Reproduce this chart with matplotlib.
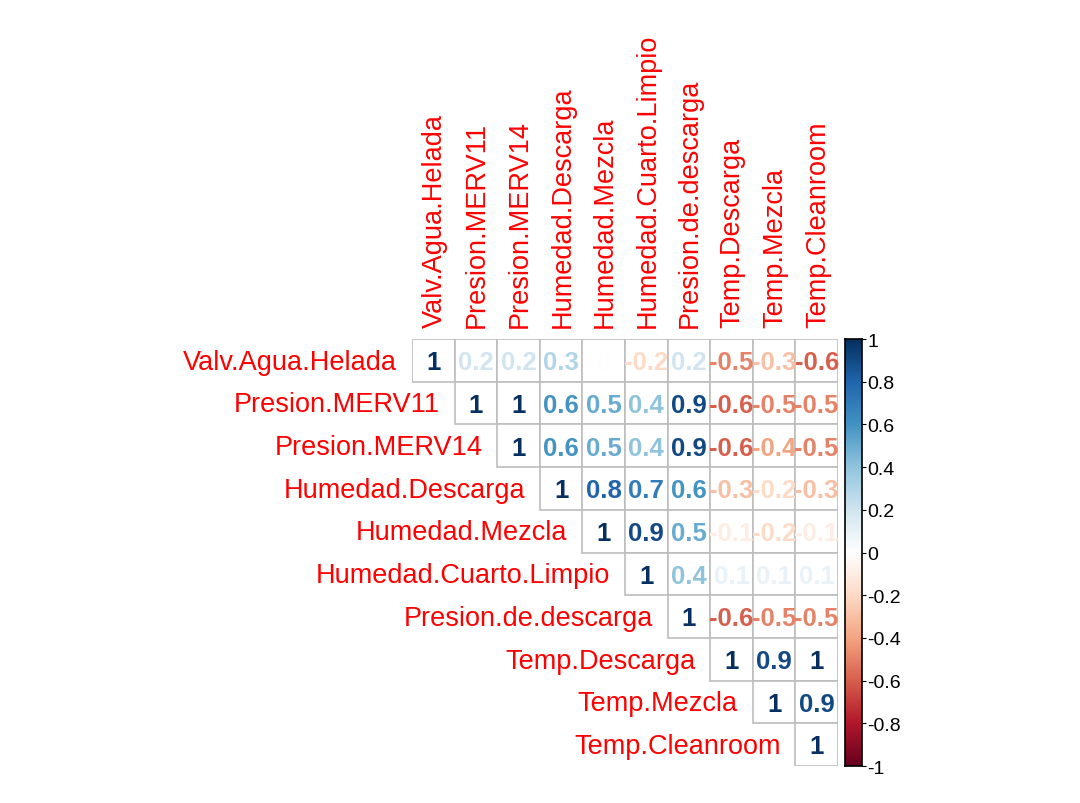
import numpy as np
import matplotlib.pyplot as plt
from matplotlib.colors import LinearSegmentedColormap
from matplotlib.patches import Rectangle

plt.rcParams['font.family'] = ['Liberation Sans', 'DejaVu Sans']

variables = ["Valv.Agua.Helada", "Presion.MERV11", "Presion.MERV14", "Humedad.Descarga",
             "Humedad.Mezcla", "Humedad.Cuarto.Limpio", "Presion.de.descarga",
             "Temp.Descarga", "Temp.Mezcla", "Temp.Cleanroom"]

# upper triangle, row by row (starting at the diagonal)
row_vals = [
    [1, 0.2, 0.2, 0.3, 0.0, -0.2, 0.2, -0.5, -0.3, -0.6],
    [1, 1, 0.6, 0.5, 0.4, 0.9, -0.6, -0.5, -0.5],
    [1, 0.6, 0.5, 0.4, 0.9, -0.6, -0.4, -0.5],
    [1, 0.8, 0.7, 0.6, -0.3, -0.2, -0.3],
    [1, 0.9, 0.5, -0.1, -0.2, -0.1],
    [1, 0.4, 0.1, 0.1, 0.1],
    [1, -0.6, -0.5, -0.5],
    [1, 0.9, 1],
    [1, 0.9],
    [1],
]

cbar_ticks = [1, 0.8, 0.6, 0.4, 0.2, 0, -0.2, -0.4, -0.6, -0.8, -1]

col2 = ["#67001F", "#B2182B", "#D6604D", "#F4A582", "#FDDBC7", "#FFFFFF",
        "#D1E5F0", "#92C5DE", "#4393C3", "#2166AC", "#053061"]
cmap = LinearSegmentedColormap.from_list("RdBu_corr", col2)

n = len(variables)
fig = plt.figure(figsize=(10.8, 8.04), dpi=100)
ax = fig.add_axes([0.3815, 0.046, 0.3944, 0.531])
ax.set_xlim(-0.5, n - 0.5)
ax.set_ylim(n - 0.5, -0.5)
ax.axis("off")

for i in range(n):
    for k, v in enumerate(row_vals[i]):
        j = i + k
        ax.add_patch(Rectangle((j - 0.5, i - 0.5), 1, 1, facecolor="white",
                               edgecolor="#BEBEBE", linewidth=1.2))
        label = "%g" % round(v, 1) if v != 0 else "0"
        ax.text(j, i + 0.04, label, ha="center", va="center", fontsize=18.5,
                fontweight="bold", color=cmap((v + 1) / 2))
    # row label
    ax.text(i - 0.85, i + 0.03, variables[i], ha="right", va="center", fontsize=19.5,
            color="red", clip_on=False)
    # column label
    ax.text(i + 0.03, -0.78, variables[i], ha="center", va="bottom", fontsize=19.5,
            color="red", rotation=90, clip_on=False)

cax = fig.add_axes([0.7824, 0.046, 0.0157, 0.531])
grad = np.linspace(-1, 1, 256).reshape(-1, 1)
cax.imshow(grad, cmap=cmap, aspect="auto", origin="lower", extent=[0, 1, -1, 1])
cax.set_xticks([])
cax.yaxis.tick_right()
cax.set_yticks(cbar_ticks)
cax.set_yticklabels(["%g" % t for t in cbar_ticks])
cax.tick_params(axis="y", length=3, pad=1, labelsize=14)
for s in cax.spines.values():
    s.set_linewidth(1.2)

fig.savefig("out.png", dpi=100)
